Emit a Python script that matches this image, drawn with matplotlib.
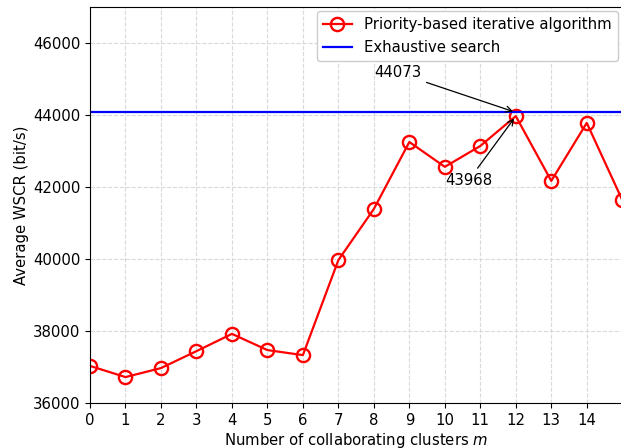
import matplotlib
matplotlib.use("Agg")
import matplotlib.pyplot as plt

m_values = list(range(16))
wscr = [37030, 36720, 36970, 37440, 37920, 37470, 37330, 39970, 41390,
        43250, 42560, 43140, 43968, 42170, 43780, 41640]
exhaustive = 44073
xticks = list(range(15))
yticks = [36000, 38000, 40000, 42000, 44000, 46000]

FS = 10.7
fig = plt.figure(figsize=(6.21, 4.48), dpi=100)
ax = fig.add_axes([90/621, 45/448, 1 - 90/621 + 0.002, (403 - 7)/448])

ax.plot(m_values, wscr, color='red', marker='o', markersize=9.5,
        markerfacecolor='none', markeredgewidth=1.7, linewidth=1.6,
        label='Priority-based iterative algorithm')
ax.axhline(exhaustive, color='blue', linewidth=1.6, label='Exhaustive search')

ax.set_xlim(0, 15)
ax.set_ylim(36000, 47000)
ax.set_xticks(xticks)
ax.set_yticks(yticks)
ax.grid(True, linestyle='--', color='#d9d9d9', linewidth=0.8)
ax.set_axisbelow(True)
ax.spines['right'].set_visible(False)
ax.tick_params(labelsize=FS)

ax.set_xlabel('Number of collaborating clusters $m$', fontsize=FS, labelpad=2)
ax.set_ylabel('Average WSCR (bit/s)', fontsize=FS, labelpad=3)

ax.annotate(str(exhaustive), xy=(12, exhaustive), xytext=(8.0, 45050),
            fontsize=FS, arrowprops=dict(arrowstyle='->', color='black', lw=0.9))
ax.annotate(str(wscr[12]), xy=(12, wscr[12]), xytext=(10.0, 42050),
            fontsize=FS, arrowprops=dict(arrowstyle='->', color='black', lw=0.9))

ax.legend(loc='upper right', fontsize=FS, framealpha=1.0, borderaxespad=0.3)

fig.savefig('out.png', dpi=100)
